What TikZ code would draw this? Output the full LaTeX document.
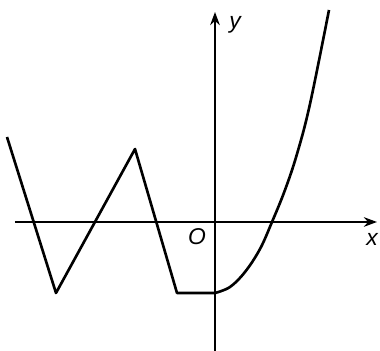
\documentclass[tikz,border=0pt]{standalone}
\usepackage{fontspec}
\setmainfont{Liberation Sans}
\usetikzlibrary{arrows.meta}

\begin{document}
\begin{tikzpicture}[x=0.02cm,y=0.02cm,font=\fontsize{13}{15}\selectfont\itshape]
  \useasboundingbox (-215,-129) rectangle (165,222);
  \coordinate (O) at (0,0);
  \coordinate (xs) at (-200,0);
  \coordinate (xe) at (162,0);
  \coordinate (ys) at (0,-129);
  \coordinate (ye) at (0,210);
  \draw[line width=1.1pt,-{Stealth[length=7.5pt,width=5.5pt]}] (xs)--(xe);
  \draw[line width=1.1pt,-{Stealth[length=7.5pt,width=5.5pt]}] (ys)--(ye);
  \node (xlab) at (157,-17) {x};
  \node (ylab) at (20,197) {y};
  \node (olab) at (-18,-15) {O};
  \coordinate (A) at (-208,85);
  \coordinate (B) at (-159,-71);
  \coordinate (C) at (-80,73);
  \coordinate (D) at (-38,-71);
  \coordinate (E) at (0,-71);
  \draw[line width=1.5pt,line join=round] (A)--(B)--(C)--(D)--(E)
    -- plot[smooth,tension=0.6] coordinates {(E) (15,-65) (30,-50) (45,-27) (57,0)
       (70,32) (82,68) (95,118) (114,212)};
\end{tikzpicture}
\end{document}
